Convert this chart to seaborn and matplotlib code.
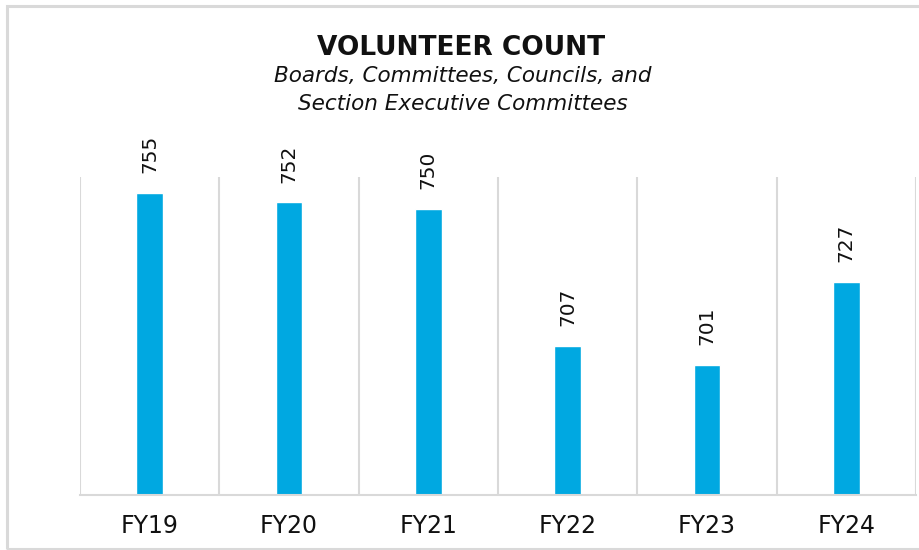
import matplotlib
matplotlib.use("Agg")
import matplotlib.pyplot as plt
import numpy as np
import pandas as pd
import seaborn as sns
from matplotlib.patches import Rectangle

# Volunteer counts by fiscal year
fiscal_years = ["FY19", "FY20", "FY21", "FY22", "FY23", "FY24"]
volunteers = [755, 752, 750, 707, 701, 727]

title = "VOLUNTEER COUNT"
subtitle_lines = ["Boards, Committees, Councils, and",
                  "Section Executive Committees"]

BAR_COLOR = "#00A8E1"
GRID_COLOR = "#D9D9D9"
TEXT_COLOR = "#111111"

df = pd.DataFrame({"year": fiscal_years, "count": volunteers})

sns.set_theme(style="white")
plt.rcParams["font.family"] = ["DejaVu Sans"]

fig = plt.figure(figsize=(9.19, 5.5), dpi=100)
ax = fig.add_axes([80 / 919, 55 / 550, 836 / 919, 318 / 550])

sns.barplot(data=df, x="year", y="count", color=BAR_COLOR, width=0.19,
            saturation=1, ax=ax)

ax.set_ylim(660, 760)
ax.set_xlim(-0.5, len(fiscal_years) - 0.5)

# Category separators
ax.set_xticks(np.arange(-0.5, len(fiscal_years)), minor=True)
ax.grid(which="minor", axis="x", color=GRID_COLOR, linewidth=1.5)
ax.grid(which="major", visible=False)
ax.set_axisbelow(True)

for side in ["top", "right", "left"]:
    ax.spines[side].set_visible(False)
ax.spines["bottom"].set_color(GRID_COLOR)
ax.spines["bottom"].set_linewidth(1.5)

ax.set_yticks([])
ax.set_xlabel("")
ax.set_ylabel("")
ax.tick_params(axis="x", which="both", length=0, pad=14, labelsize=17,
               labelcolor=TEXT_COLOR)

ax.bar_label(ax.containers[0], labels=[str(v) for v in volunteers],
             rotation=90, padding=14, fontsize=14.5, color=TEXT_COLOR)

fig.text(0.502, 1 - 55 / 550, title, ha="center", va="baseline",
         fontsize=19, fontweight="bold", color=TEXT_COLOR)
fig.text(0.504, 1 - 82 / 550, subtitle_lines[0], ha="center",
         va="baseline", fontsize=15.5, style="italic", color=TEXT_COLOR)
fig.text(0.504, 1 - 110 / 550, subtitle_lines[1], ha="center",
         va="baseline", fontsize=15.5, style="italic", color=TEXT_COLOR)

# Chart frame
fig.add_artist(Rectangle((7 / 919, 1 / 550), 1.0, 543 / 550,
                         transform=fig.transFigure, fill=False,
                         edgecolor=GRID_COLOR, linewidth=2.2, clip_on=False))

fig.savefig("out.png", dpi=100)
